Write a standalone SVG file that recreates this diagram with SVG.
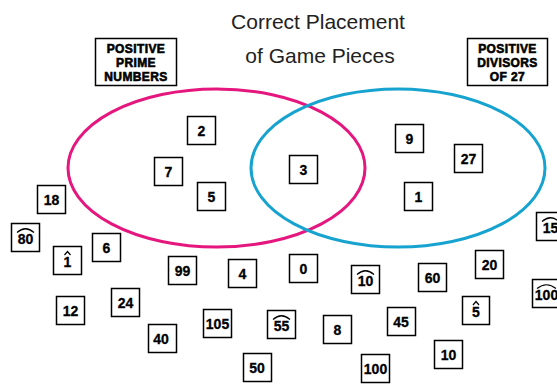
<svg xmlns="http://www.w3.org/2000/svg" width="557" height="387" viewBox="0 0 557 387">
  <style>
    .title { font-family: "Liberation Sans", Arial, sans-serif; font-size: 21px; fill: #222; text-anchor: middle; }
    .lbl-box { fill: #fff; stroke: #000; stroke-width: 1.5; }
    .lbl { font-family: "Liberation Sans", Arial, sans-serif; font-weight: bold; font-size: 12px; letter-spacing: 0.4px; fill: #000; stroke: #000; stroke-width: 0.6; text-anchor: middle; }
    .piece rect { fill: #fff; stroke: #000; stroke-width: 1.5; }
    .piece text { font-family: "Liberation Sans", Arial, sans-serif; font-weight: bold; font-size: 14px; fill: #000; stroke: #000; stroke-width: 0.3; text-anchor: middle; }
    .mark { fill: none; stroke: #000; stroke-width: 1.2; }
    .set-a { fill: none; stroke: #e5177e; stroke-width: 3; }
    .set-b { fill: none; stroke: #17a3cf; stroke-width: 3; }
  </style>

  <!-- heading -->
  <g id="title">
    <text class="title" x="318" y="29">Correct Placement</text>
    <text class="title" x="320" y="63">of Game Pieces</text>
  </g>

  <!-- set outlines -->
  <g id="connectors">
    <ellipse class="set-a" cx="216.5" cy="168" rx="148.5" ry="79"/>
    <ellipse class="set-b" cx="398" cy="168" rx="147" ry="79"/>
  </g>

  <!-- set captions -->
  <g id="label-primes">
    <rect class="lbl-box" x="95.5" y="38.5" width="81" height="47"/>
    <text class="lbl" x="136" y="53">POSITIVE</text>
    <text class="lbl" x="136" y="67">PRIME</text>
    <text class="lbl" x="136" y="81">NUMBERS</text>
  </g>
  <g id="label-divisors">
    <rect class="lbl-box" x="467.5" y="38.5" width="80" height="47"/>
    <text class="lbl" x="507.5" y="53">POSITIVE</text>
    <text class="lbl" x="507.5" y="67">DIVISORS</text>
    <text class="lbl" x="507.5" y="81">OF 27</text>
  </g>

  <!-- game pieces inside the sets -->
  <g id="p2" class="piece"><rect x="187.5" y="116.5" width="28" height="28"/><text x="201.5" y="135.5">2</text></g>
  <g id="p7" class="piece"><rect x="154.5" y="157.5" width="28" height="28"/><text x="168.5" y="176.5">7</text></g>
  <g id="p5" class="piece"><rect x="197.5" y="182.5" width="28" height="28"/><text x="211.5" y="201.5">5</text></g>
  <g id="p3" class="piece"><rect x="289.5" y="155.5" width="28" height="28"/><text x="303.5" y="174.5">3</text></g>
  <g id="p9" class="piece"><rect x="395.5" y="124.5" width="28" height="28"/><text x="409.5" y="143.5">9</text></g>
  <g id="p27" class="piece"><rect x="454.5" y="144.5" width="28" height="28"/><text x="468.5" y="163.5">27</text></g>
  <g id="p1" class="piece"><rect x="404.5" y="182.5" width="28" height="28"/><text x="418.5" y="201.5">1</text></g>

  <!-- game pieces outside the sets -->
  <g id="p18" class="piece"><rect x="37.5" y="185.5" width="28" height="28"/><text x="51.5" y="204.5">18</text></g>
  <g id="p80-arc" class="piece"><rect x="11.5" y="223.5" width="28" height="28"/><text x="25.5" y="244">80</text><path class="mark" d="M17,232.5 Q25.5,225 34,232.5"/></g>
  <g id="p1-hat" class="piece"><rect x="53.5" y="246.5" width="28" height="28"/><text x="67.5" y="267">1</text><path class="mark" d="M64.5,255 L67.5,251.5 L70.5,255"/></g>
  <g id="p6" class="piece"><rect x="92.5" y="233.5" width="28" height="28"/><text x="106.5" y="252.5">6</text></g>
  <g id="p12" class="piece"><rect x="56.5" y="296.5" width="28" height="28"/><text x="70.5" y="315.5">12</text></g>
  <g id="p24" class="piece"><rect x="111.5" y="288.5" width="28" height="28"/><text x="125.5" y="307.5">24</text></g>
  <g id="p99" class="piece"><rect x="168.5" y="256.5" width="28" height="28"/><text x="182.5" y="275.5">99</text></g>
  <g id="p4" class="piece"><rect x="228.5" y="259.5" width="28" height="28"/><text x="242.5" y="278.5">4</text></g>
  <g id="p0" class="piece"><rect x="289.5" y="254.5" width="28" height="28"/><text x="303.5" y="273.5">0</text></g>
  <g id="p105" class="piece"><rect x="203.5" y="309.5" width="28" height="28"/><text x="217.5" y="328.5">105</text></g>
  <g id="p40" class="piece"><rect x="148.5" y="324.5" width="28" height="28"/><text x="161" y="343.5">40</text></g>
  <g id="p50" class="piece"><rect x="243.5" y="353.5" width="28" height="28"/><text x="257" y="372.5">50</text></g>
  <g id="p55-arc" class="piece"><rect x="267.5" y="310.5" width="28" height="28"/><text x="281.5" y="331">55</text><path class="mark" d="M273,319.5 Q281.5,312 290,319.5"/></g>
  <g id="p10-arc" class="piece"><rect x="351.5" y="265.5" width="28" height="28"/><text x="365.5" y="286">10</text><path class="mark" d="M357,274.5 Q365.5,267 374,274.5"/></g>
  <g id="p60" class="piece"><rect x="418.5" y="263.5" width="28" height="28"/><text x="432.5" y="282.5">60</text></g>
  <g id="p20" class="piece"><rect x="475.5" y="250.5" width="28" height="28"/><text x="489.5" y="269.5">20</text></g>
  <g id="p8" class="piece"><rect x="323.5" y="315.5" width="28" height="28"/><text x="337.5" y="334.5">8</text></g>
  <g id="p45" class="piece"><rect x="387.5" y="307.5" width="28" height="28"/><text x="401" y="326.5">45</text></g>
  <g id="p5-hat" class="piece"><rect x="462.5" y="296.5" width="27" height="28"/><text x="476" y="317">5</text><path class="mark" d="M473,305 L476,301.5 L479,305"/></g>
  <g id="p10" class="piece"><rect x="434.5" y="340.5" width="28" height="28"/><text x="448.5" y="359.5">10</text></g>
  <g id="p100" class="piece"><rect x="361.5" y="354.5" width="28" height="28"/><text x="375.5" y="373.5">100</text></g>
  <g id="p15-arc" class="piece"><rect x="536.5" y="212.5" width="28" height="28"/><text x="550.5" y="233">15</text><path class="mark" d="M542,221.5 Q550.5,214 559,221.5"/></g>
  <g id="p100-arc" class="piece"><rect x="532.5" y="279.5" width="28" height="28"/><text x="546.5" y="300">100</text><path class="mark" d="M537,288.5 Q546.5,281 556,288.5"/></g>
</svg>
